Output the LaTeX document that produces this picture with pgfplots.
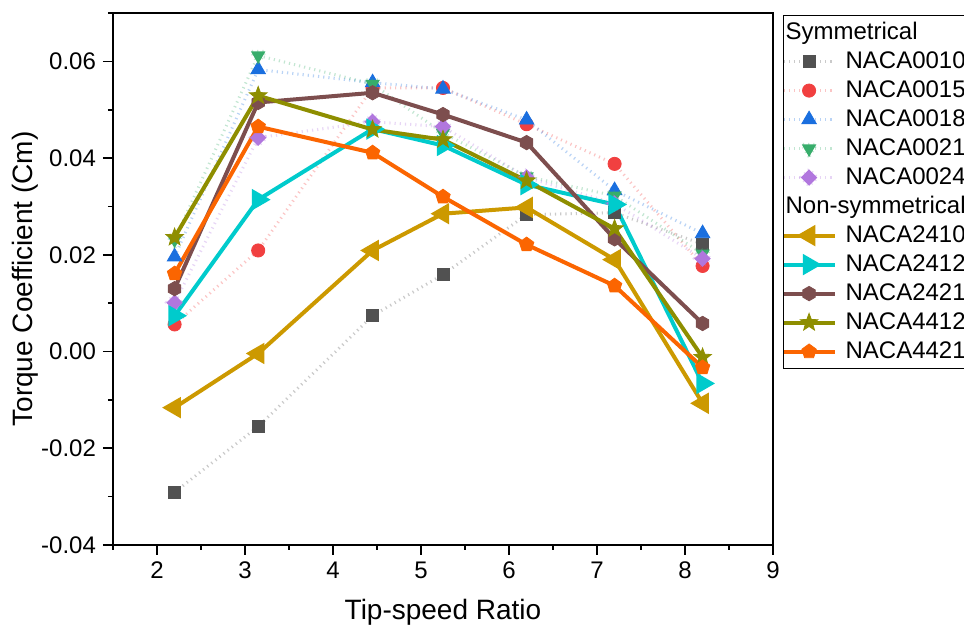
\documentclass[border=0pt]{standalone}
\usepackage{fontspec}
\setmainfont{Liberation Sans}
\usepackage{pgfplots}
\usepackage{pgfplotstable}
\pgfplotsset{compat=1.18}

\definecolor{c0010}{HTML}{515151}
\definecolor{c0015}{HTML}{F14040}
\definecolor{c0018}{HTML}{1A6FDF}
\definecolor{c0021}{HTML}{37AD6B}
\definecolor{c0024}{HTML}{B177DE}
\definecolor{c2410}{HTML}{CC9900}
\definecolor{c2412}{HTML}{00CBCC}
\definecolor{c2421}{HTML}{7D4E4E}
\definecolor{c4412}{HTML}{8E8E00}
\definecolor{c4421}{HTML}{FB6501}

% hexagon marker (not in the plotmarks set)
\pgfdeclareplotmark{hexagon*}{%
  \pgfpathmoveto{\pgfpointpolar{90}{\pgfplotmarksize}}%
  \pgfpathlineto{\pgfpointpolar{150}{\pgfplotmarksize}}%
  \pgfpathlineto{\pgfpointpolar{210}{\pgfplotmarksize}}%
  \pgfpathlineto{\pgfpointpolar{270}{\pgfplotmarksize}}%
  \pgfpathlineto{\pgfpointpolar{330}{\pgfplotmarksize}}%
  \pgfpathlineto{\pgfpointpolar{30}{\pgfplotmarksize}}%
  \pgfpathclose
  \pgfusepathqfillstroke}

% filled five-pointed star
\pgfdeclareplotmark{fstar}{%
  \pgfpathmoveto{\pgfpointpolar{90}{\pgfplotmarksize}}%
  \pgfpathlineto{\pgfpointpolar{126}{0.42\pgfplotmarksize}}%
  \pgfpathlineto{\pgfpointpolar{162}{\pgfplotmarksize}}%
  \pgfpathlineto{\pgfpointpolar{198}{0.42\pgfplotmarksize}}%
  \pgfpathlineto{\pgfpointpolar{234}{\pgfplotmarksize}}%
  \pgfpathlineto{\pgfpointpolar{270}{0.42\pgfplotmarksize}}%
  \pgfpathlineto{\pgfpointpolar{306}{\pgfplotmarksize}}%
  \pgfpathlineto{\pgfpointpolar{342}{0.42\pgfplotmarksize}}%
  \pgfpathlineto{\pgfpointpolar{18}{\pgfplotmarksize}}%
  \pgfpathlineto{\pgfpointpolar{54}{0.42\pgfplotmarksize}}%
  \pgfpathclose
  \pgfusepathqfillstroke}

% symmetrical profiles
\pgfplotstableread{
x     n0010    n0015   n0018   n0021   n0024
2.20 -0.0291  0.0056  0.0196  0.0231  0.0101
3.15 -0.0155  0.0209  0.0583  0.0612  0.0442
4.45  0.0074  0.0545  0.0556  0.0553  0.0475
5.25  0.0159  0.0545  0.0543  0.0452  0.0465
6.20  0.0283  0.0470  0.0479  0.0362  0.0360
7.20  0.0287  0.0388  0.0333  0.0322  0.0306
8.20  0.0222  0.0177  0.0244  0.0202  0.0192
}\symtab

% non-symmetrical profiles
\pgfplotstableread{
x     n2410    n2412    n2421   n4412    n4421
2.20 -0.0116  0.0074  0.0130  0.0236  0.0161
3.15 -0.0004  0.0314  0.0515  0.0529  0.0465
4.45  0.0209  0.0460  0.0535  0.0459  0.0411
5.25  0.0285  0.0426  0.0490  0.0438  0.0320
6.20  0.0298  0.0345  0.0432  0.0353  0.0221
7.20  0.0190  0.0304  0.0233  0.0254  0.0136
8.20 -0.0107 -0.0066  0.0058 -0.0012 -0.0033
}\nonsymtab

\begin{document}
\begin{tikzpicture}
\begin{axis}[
    at={(0pt,0pt)}, anchor=south west,
    scale only axis,
    width=330pt, height=266pt,
    xmin=1.5, xmax=9,
    ymin=-0.04, ymax=0.07,
    xtick={2,3,4,5,6,7,8,9},
    ytick={-0.04,-0.02,0,0.02,0.04,0.06},
    minor xtick={1.5,2.5,3.5,4.5,5.5,6.5,7.5,8.5},
    minor ytick={-0.03,-0.01,0.01,0.03,0.05,0.07},
    tick pos=left,
    tick align=outside,
    major tick length=5pt,
    minor tick length=2.5pt,
    axis line style={line width=0.8pt},
    every tick/.style={black, line width=0.8pt},
    scaled y ticks=false,
    yticklabel style={/pgf/number format/.cd, fixed, fixed zerofill, precision=2},
    /pgf/number format/assume math mode=true,
    tick label style={font=\fontsize{12}{14}\selectfont},
    xlabel={Tip-speed Ratio},
    ylabel={Torque Coefficient (Cm)},
    label style={font=\fontsize{14}{16}\selectfont},
    xlabel style={at={(axis description cs:0.5,0)}, anchor=base, yshift=-37.5pt},
    ylabel style={at={(axis description cs:-0.1227,0.5)}, anchor=base},
    legend cell align=left,
    legend image code/.code={%
      \draw[mark repeat=2,mark phase=2,#1]
        plot coordinates {(0pt,0pt) (12.75pt,0pt) (25.5pt,0pt)};},
    legend style={
      at={(1,1)}, anchor=north west, xshift=5pt, yshift=-1pt,
      draw=black, line width=0.6pt,
      inner xsep=-1pt, inner ysep=3pt,
      row sep=3.5pt, column sep=0pt,
      font=\fontsize{12}{13}\selectfont,
      nodes={inner xsep=4.5pt, inner ysep=0pt, text height=9pt, text depth=2pt},
    },
    sym/.style={line width=1.5pt, dash pattern=on 0.6pt off 2pt, draw opacity=0.3,
      mark options={solid, draw opacity=1, fill opacity=1, line width=0.4pt}},
    nsym/.style={line width=2pt, solid,
      mark options={solid, line width=0.4pt}},
]

\addlegendimage{empty legend}
\addlegendentry{\hspace{-30pt}Symmetrical}

\addplot[sym, color=c0010, mark=square*, mark size=3pt] table[x=x, y=n0010] {\symtab};
\addlegendentry{NACA0010}
\addplot[sym, color=c0015, mark=*, mark size=3.3pt] table[x=x, y=n0015] {\symtab};
\addlegendentry{NACA0015}
\addplot[sym, color=c0018, mark=triangle*, mark size=4.2pt] table[x=x, y=n0018] {\symtab};
\addlegendentry{NACA0018}
\addplot[sym, color=c0021, mark=triangle*, mark size=4.2pt,
  mark options={rotate=180}] table[x=x, y=n0021] {\symtab};
\addlegendentry{NACA0021}
\addplot[sym, color=c0024, mark=square*, mark size=2.9pt,
  mark options={rotate=45}] table[x=x, y=n0024] {\symtab};
\addlegendentry{NACA0024}

\addlegendimage{empty legend}
\addlegendentry{\hspace{-30pt}Non-symmetrical}

\addplot[nsym, color=c2410, mark=triangle*, mark size=4.2pt,
  mark options={rotate=90}] table[x=x, y=n2410] {\nonsymtab};
\addlegendentry{NACA2410}
\addplot[nsym, color=c2412, mark=triangle*, mark size=4.2pt,
  mark options={rotate=-90}] table[x=x, y=n2412] {\nonsymtab};
\addlegendentry{NACA2412}
\addplot[nsym, color=c2421, mark=hexagon*, mark size=3.6pt] table[x=x, y=n2421] {\nonsymtab};
\addlegendentry{NACA2421}
\addplot[nsym, color=c4412, mark=fstar, mark size=4.6pt] table[x=x, y=n4412] {\nonsymtab};
\addlegendentry{NACA4412}
\addplot[nsym, color=c4421, mark=pentagon*, mark size=3.8pt] table[x=x, y=n4421] {\nonsymtab};
\addlegendentry{NACA4421}

\end{axis}
\pgfresetboundingbox
\useasboundingbox (-56.5pt,-40.5pt) rectangle (425.5pt,272.5pt);
\end{tikzpicture}
\end{document}
